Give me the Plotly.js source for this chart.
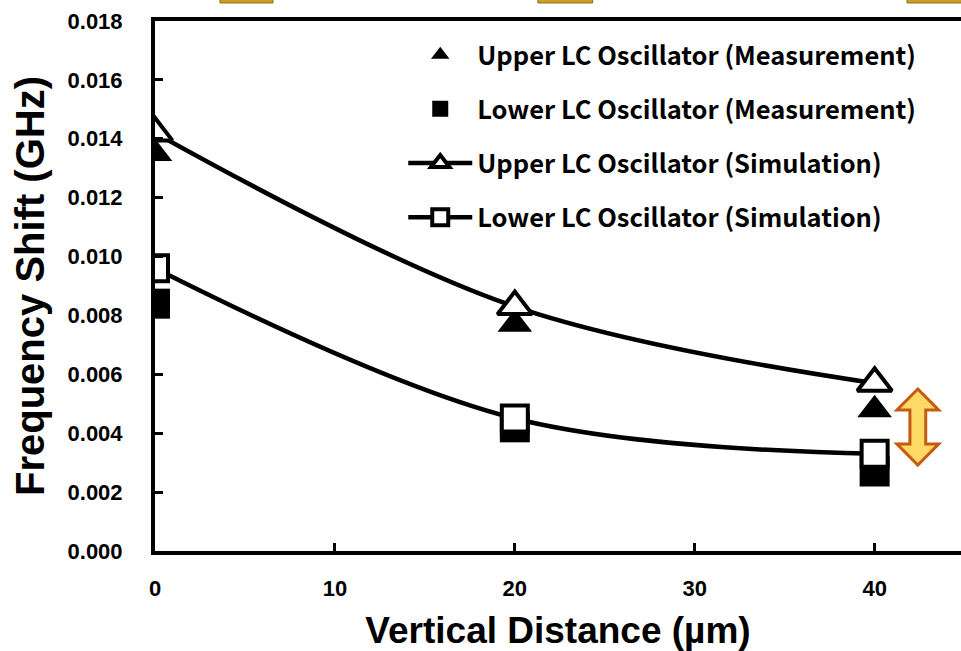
<!DOCTYPE html>
<html>
<head>
<meta charset="utf-8">
<script src="https://cdn.plot.ly/plotly-3.0.1.min.js"></script>
<style>html,body{margin:0;padding:0;background:#fff;}#chart{width:961px;height:651px;}</style>
</head>
<body>
<div id="chart"></div>
<script>
// Vertical distance (µm)
const distances = [0, 20, 40];
// Frequency shift (GHz)
const upperMeasurement = [0.0135, 0.0077, 0.0048];
const lowerMeasurement = [0.0084, 0.0042, 0.0027];
const upperSimulation = [0.0142, 0.0083, 0.0057];
const lowerSimulation = [0.0096, 0.0045, 0.0033];
const seriesNames = [
  "Upper LC Oscillator (Measurement)",
  "Lower LC Oscillator (Measurement)",
  "Upper LC Oscillator (Simulation)",
  "Lower LC Oscillator (Simulation)"
];
const xTicks = [0, 10, 20, 30, 40];
const yTicks = [0, 0.002, 0.004, 0.006, 0.008, 0.010, 0.012, 0.014, 0.016, 0.018];

const axisFont = {family: "Liberation Sans, Arial, sans-serif", size: 22, color: "#000", weight: "bold"};
const xTitleFont = {family: "Liberation Sans, Arial, sans-serif", size: 37, color: "#000", weight: "bold"};
const yTitleFont = {family: "Liberation Sans, Arial, sans-serif", size: 40, color: "#000", weight: "bold"};
const legendFont = {family: "Noto Sans CJK JP, sans-serif", size: 25.5, color: "#000", weight: "bold"};

const traces = [
  {x: distances, y: upperMeasurement, name: seriesNames[0], mode: "markers", legendgroup: "a",
   marker: {symbol: "triangle-up", size: 30, color: "#000"}},
  {x: distances, y: lowerMeasurement, name: seriesNames[1], mode: "markers", legendgroup: "b",
   marker: {symbol: "square", size: 30, color: "#000"}},
  {x: distances, y: upperSimulation, name: seriesNames[2], mode: "lines+markers", legendgroup: "c",
   line: {shape: "spline", smoothing: 1, color: "#000", width: 4.5},
   marker: {symbol: "triangle-up", size: 30, color: "#fff", line: {color: "#000", width: 4}}},
  {x: distances, y: lowerSimulation, name: seriesNames[3], mode: "lines+markers", legendgroup: "d",
   line: {shape: "spline", smoothing: 1, color: "#000", width: 4.5},
   marker: {symbol: "square", size: 26, color: "#fff", line: {color: "#000", width: 4}}}
];

const layout = {
  width: 961, height: 651,
  margin: {l: 155, r: 0, t: 21, b: 100},
  paper_bgcolor: "#fff", plot_bgcolor: "#fff",
  showlegend: true,
  legend: {x: 0.308, y: 0.98, xanchor: "left", yanchor: "top", font: legendFont,
           bgcolor: "rgba(0,0,0,0)", tracegroupgap: 18, itemwidth: 64, traceorder: "grouped"},
  xaxis: {
    range: [0, 44.8], tickvals: xTicks, ticktext: xTicks.map(String),
    ticks: "inside", ticklen: 8, tickwidth: 3, tickcolor: "#000",
    showline: true, linecolor: "#000", linewidth: 4, mirror: true,
    showgrid: false, zeroline: false, tickfont: axisFont, ticklabelstandoff: 15,
    title: {text: "Vertical Distance (µm)", font: xTitleFont, standoff: 18}
  },
  yaxis: {
    range: [0, 0.018], tickvals: yTicks, ticktext: yTicks.map(v => v.toFixed(3)),
    ticks: "inside", ticklen: 8, tickwidth: 3, tickcolor: "#000",
    showline: true, linecolor: "#000", linewidth: 4, mirror: false,
    showgrid: false, zeroline: false, tickfont: axisFont, ticklabelstandoff: 24,
    title: {text: "Frequency Shift (GHz)", font: yTitleFont, standoff: 12}
  },
  shapes: [
    {type: "path", xref: "x", yref: "y",
     path: "M42.4,0.0055 L43.56,0.00479 L42.84,0.00479 L42.84,0.00363 L43.56,0.00363 L42.4,0.00292 L41.24,0.00363 L41.96,0.00363 L41.96,0.00479 L41.24,0.00479 Z",
     fillcolor: "#FFD966", line: {color: "#C55A11", width: 3}},
    {type: "rect", xref: "paper", yref: "paper", x0: 0.0806, x1: 0.1464, y0: 1.034, y1: 1.05,
     fillcolor: "#C9A227", line: {color: "#8A6D1A", width: 1}},
    {type: "rect", xref: "paper", yref: "paper", x0: 0.475, x1: 0.543, y0: 1.034, y1: 1.05,
     fillcolor: "#C9A227", line: {color: "#8A6D1A", width: 1}},
    {type: "rect", xref: "paper", yref: "paper", x0: 0.933, x1: 1.01, y0: 1.034, y1: 1.05,
     fillcolor: "#C9A227", line: {color: "#8A6D1A", width: 1}}
  ]
};

Plotly.newPlot("chart", traces, layout, {displayModeBar: false, staticPlot: true});
</script>
</body>
</html>
